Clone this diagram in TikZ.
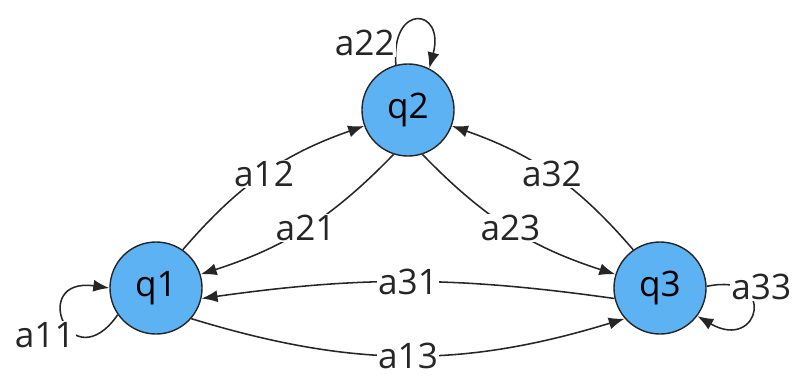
\documentclass[tikz,border=0pt]{standalone}
\usepackage{fontspec}
\setmainfont{Open Sans}
\usetikzlibrary{arrows.meta}
\definecolor{stateblue}{RGB}{92,178,242}

\begin{document}
\begin{tikzpicture}[x=0.025cm, y=0.025cm,
  every node/.style={font=\fontsize{25}{30}\selectfont},
  state/.style={circle, draw=black!85, line width=1pt, fill=stateblue,
    minimum size=2.3cm, inner sep=0pt},
  lbl/.style={fill=white, inner sep=1pt},
  edge/.style={-{Latex[length=0.4cm,width=0.3cm]}, line width=1.1pt, black!85}]
  \useasboundingbox (0,0) rectangle (800,377);

  \node[state] (q1) at (156,89) {q1};
  \node[state] (q2) at (408,267) {q2};
  \node[state] (q3) at (660,89) {q3};

  \draw[edge] (q1.55) to[bend left=15] node[lbl] {a12} (q2.200);
  \draw[edge] (q2.252) to[bend left=14] node[lbl] {a21} (q1.17);
  \draw[edge] (q2.288) to[bend right=14] node[lbl] {a23} (q3.163);
  \draw[edge] (q3.125) to[bend right=15] node[lbl] {a32} (q2.-20);
  \draw[edge] (q3.193) to[out=172, in=8] node[lbl] {a31} (q1.-13);
  \draw[edge] (q1.-41) to[out=-17, in=197] node[lbl] {a13} (q3.221);

  \draw[edge] (q1.215) to[out=235, in=172, looseness=7.5]
    node[lbl, pos=0.33, anchor=east] {a11} (q1.180);
  \draw[edge] (q2.105) to[out=95, in=75, looseness=4.8]
    node[lbl, pos=0.14, anchor=east] {a22} (q2.63);
  \draw[edge] (q3.2) to[out=12, in=-30, looseness=6]
    node[lbl, pos=0.2, anchor=west, xshift=-0.25cm] {a33} (q3.-37);
\end{tikzpicture}
\end{document}
